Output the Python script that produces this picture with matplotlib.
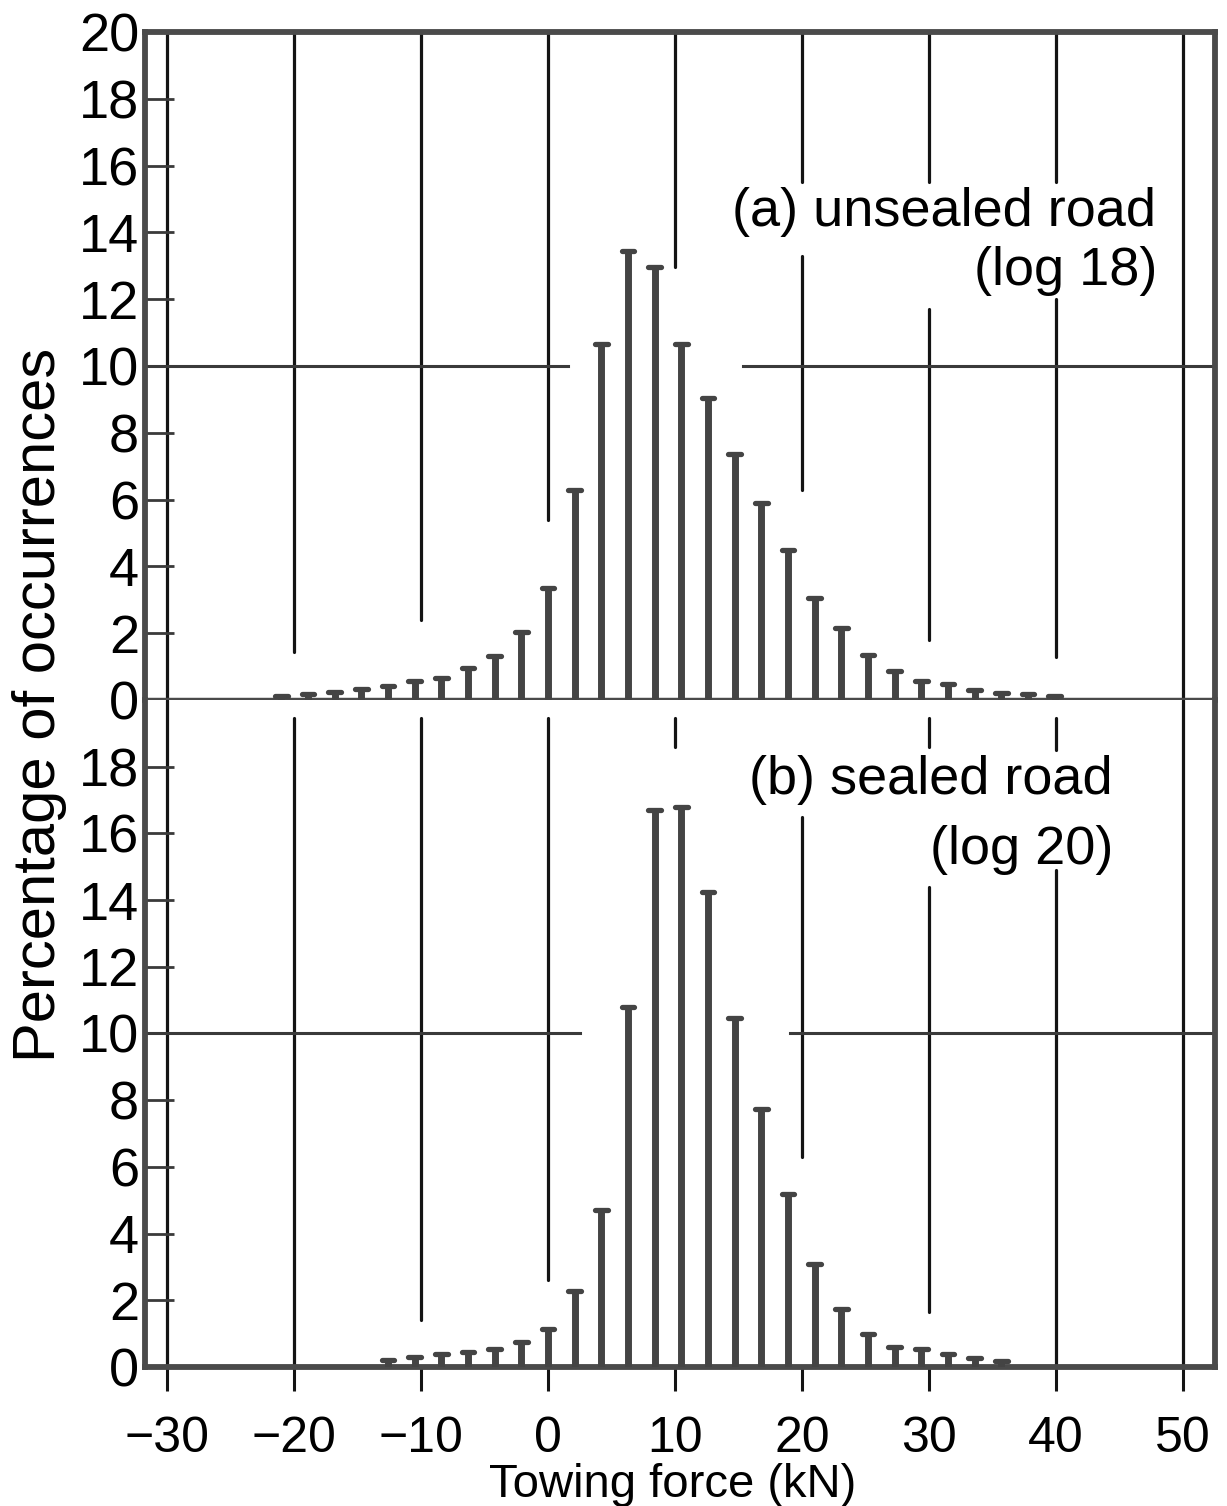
import matplotlib
matplotlib.use("Agg")
import matplotlib.pyplot as plt

plt.rcParams['font.family'] = ['Liberation Sans', 'DejaVu Sans']

# towing force bins (kN) and percentage of occurrences
force_a = [-21.0, -18.9, -16.8, -14.7, -12.6, -10.5, -8.4, -6.3, -4.2, -2.1,
           0.0, 2.1, 4.2, 6.3, 8.4, 10.5, 12.6, 14.7, 16.8, 18.9,
           21.0, 23.1, 25.2, 27.3, 29.4, 31.5, 33.6, 35.7, 37.8, 39.9]
pct_a = [0.12, 0.17, 0.24, 0.32, 0.42, 0.57, 0.65, 0.97, 1.33, 2.05,
         3.35, 6.3, 10.65, 13.45, 12.95, 10.65, 9.05, 7.35, 5.9, 4.5,
         3.05, 2.15, 1.35, 0.87, 0.57, 0.47, 0.3, 0.22, 0.17, 0.12]

force_b = [-12.6, -10.5, -8.4, -6.3, -4.2, -2.1, 0.0, 2.1, 4.2, 6.3, 8.4, 10.5,
           12.6, 14.7, 16.8, 18.9, 21.0, 23.1, 25.2, 27.3, 29.4, 31.5, 33.6, 35.7]
pct_b = [0.2, 0.3, 0.38, 0.45, 0.55, 0.75, 1.15, 2.27, 4.7, 10.8, 16.7, 16.8,
         14.25, 10.45, 7.75, 5.2, 3.1, 1.73, 0.98, 0.61, 0.53, 0.38, 0.26, 0.18]

xticks = [-30, -20, -10, 0, 10, 20, 30, 40, 50]
xticklabels = ['\u221230', '\u221220', '\u221210', '0', '10', '20', '30', '40', '50']

# broken vertical rules (x, y_from, y_to), kept clear of the bars and labels
rules_a = [(-30, 0, 20), (-20, 1.45, 20), (-10, 2.4, 20), (0, 5.4, 20),
           (10, 12.95, 20), (20, 15.5, 20), (20, 6.3, 13.3), (30, 15.5, 20),
           (30, 1.8, 11.7), (40, 15.5, 20), (40, 1.3, 12.0), (50, 0, 20)]
rules_b = [(-30, 0, 20), (-20, 0, 19.45), (-10, 1.4, 19.45), (0, 2.6, 19.45),
           (10, 18.6, 19.45), (20, 6.3, 16.5), (30, 1.65, 14.4), (30, 18.6, 19.45),
           (40, 18.5, 19.45), (40, 0, 14.9), (50, 0, 20)]
# horizontal rule at 10 % with a gap around the tallest bars
hrule_a = [(-31.8, 1.55), (15.4, 52.6)]
hrule_b = [(-31.8, 2.5), (19.1, 52.6)]

ink = '#141414'
grey = '#444444'

fig = plt.figure(figsize=(12.27, 15.06), dpi=100)
ax_a = fig.add_axes([0.118, 0.5352, 0.872, 0.4436])
ax_b = fig.add_axes([0.118, 0.0923, 0.872, 0.4429])


def draw_panel(ax, force, pct, rules, hrule):
    for x, y0, y1 in rules:
        ax.plot([x, x], [y0, y1], color=ink, lw=2.3, solid_capstyle='round', zorder=1)
    for x0, x1 in hrule:
        ax.plot([x0, x1], [10, 10], color='#3a3a3a', lw=2.2, zorder=1)
    ax.vlines(force, 0, pct, colors=grey, lw=5.0, zorder=3)
    ax.hlines(pct, [f - 0.5 for f in force], [f + 0.5 for f in force],
              colors=grey, lw=3.8, capstyle='round', zorder=3)
    ax.set_xlim(-31.76, 52.52)
    ax.set_ylim(0, 20)
    for side in ['left', 'right', 'top', 'bottom']:
        ax.spines[side].set_linewidth(4.2)
        ax.spines[side].set_color('#4a4a4a')
    ax.tick_params(axis='y', direction='in', length=21, width=2, color='#3a3a3a',
                   labelsize=39, pad=4)


draw_panel(ax_a, force_a, pct_a, rules_a, hrule_a)
draw_panel(ax_b, force_b, pct_b, rules_b, hrule_b)

ax_a.spines['bottom'].set_linewidth(3.2)
ax_b.spines['top'].set_visible(False)

ax_a.set_yticks(range(0, 21, 2))
ax_a.set_xticks([])
ax_b.set_yticks(range(0, 19, 2))
ax_b.set_xticks(xticks)
ax_b.set_xticklabels(xticklabels)
ax_b.tick_params(axis='x', direction='out', length=17, width=2.2, color=ink,
                 labelsize=36, pad=18)

ax_a.text(47.9, 14.6, '(a) unsealed road', fontsize=39, ha='right', va='center')
ax_a.text(48.0, 12.85, '(log 18)', fontsize=39, ha='right', va='center')
ax_b.text(44.5, 17.6, '(b) sealed road', fontsize=39, ha='right', va='center')
ax_b.text(44.5, 15.5, '(log 20)', fontsize=39, ha='right', va='center')

fig.text(0.032, 0.532, 'Percentage of occurrences', rotation=90, fontsize=43,
         ha='center', va='center')
fig.text(0.548, 0.006, 'Towing force (kN)', fontsize=34, ha='center', va='baseline')

fig.savefig('out.png', dpi=100, facecolor='white')
